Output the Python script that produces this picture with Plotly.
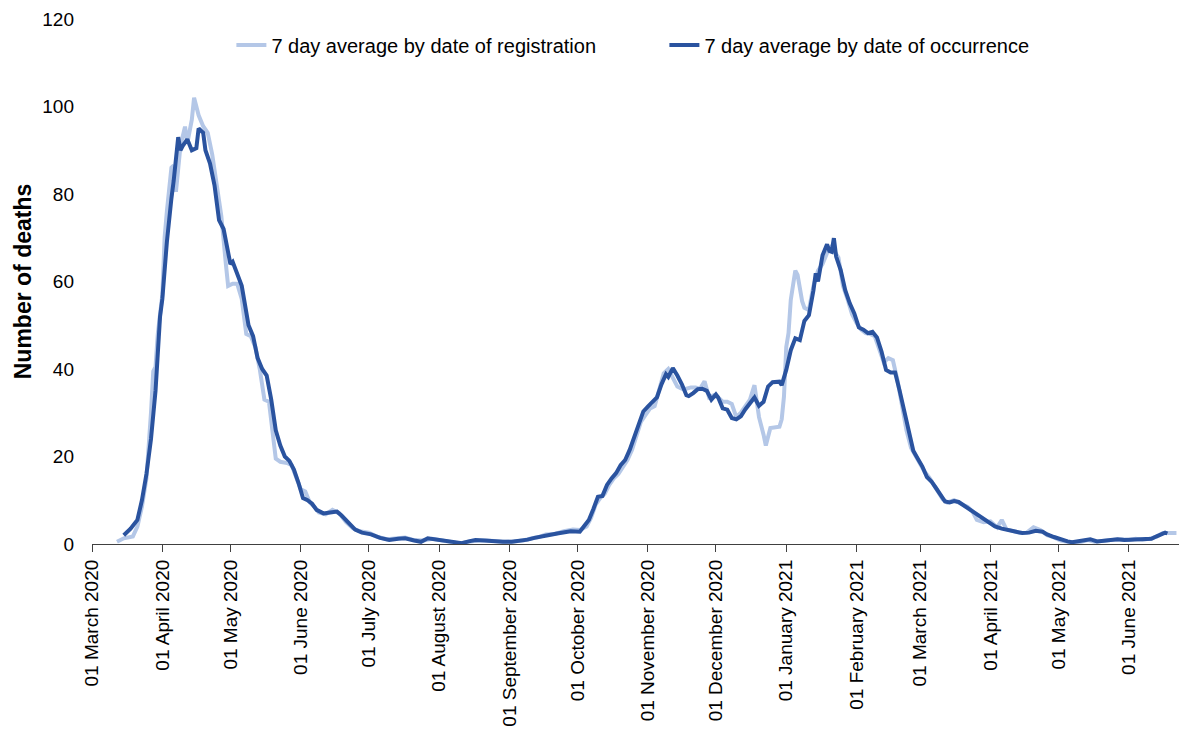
import plotly.graph_objects as go

# 7 day average by date of occurrence (dark)
occ_dates = ["2020-03-15","2020-03-18","2020-03-21","2020-03-23","2020-03-25","2020-03-27","2020-03-29","2020-03-31","2020-04-01","2020-04-03","2020-04-05","2020-04-06","2020-04-08","2020-04-09","2020-04-10","2020-04-12","2020-04-14","2020-04-16","2020-04-17","2020-04-19","2020-04-20","2020-04-22","2020-04-24","2020-04-26","2020-04-28","2020-04-30","2020-05-01","2020-05-02","2020-05-04","2020-05-06","2020-05-08","2020-05-09","2020-05-11","2020-05-13","2020-05-15","2020-05-17","2020-05-19","2020-05-21","2020-05-23","2020-05-25","2020-05-27","2020-05-29","2020-05-31","2020-06-02","2020-06-04","2020-06-06","2020-06-08","2020-06-11","2020-06-14","2020-06-17","2020-06-19","2020-06-22","2020-06-25","2020-06-28","2020-07-02","2020-07-06","2020-07-10","2020-07-14","2020-07-17","2020-07-21","2020-07-24","2020-07-27","2020-07-31","2020-08-04","2020-08-07","2020-08-11","2020-08-14","2020-08-17","2020-08-21","2020-08-25","2020-08-29","2020-09-02","2020-09-06","2020-09-09","2020-09-12","2020-09-15","2020-09-18","2020-09-22","2020-09-25","2020-09-28","2020-10-02","2020-10-04","2020-10-06","2020-10-08","2020-10-10","2020-10-12","2020-10-14","2020-10-16","2020-10-18","2020-10-20","2020-10-22","2020-10-24","2020-10-26","2020-10-28","2020-10-30","2020-11-01","2020-11-03","2020-11-05","2020-11-07","2020-11-09","2020-11-10","2020-11-12","2020-11-14","2020-11-16","2020-11-18","2020-11-19","2020-11-21","2020-11-23","2020-11-25","2020-11-27","2020-11-29","2020-12-01","2020-12-02","2020-12-04","2020-12-06","2020-12-08","2020-12-10","2020-12-12","2020-12-14","2020-12-16","2020-12-18","2020-12-20","2020-12-22","2020-12-24","2020-12-26","2020-12-29","2020-12-30","2021-01-01","2021-01-03","2021-01-05","2021-01-07","2021-01-09","2021-01-11","2021-01-13","2021-01-14","2021-01-15","2021-01-17","2021-01-19","2021-01-20","2021-01-21","2021-01-22","2021-01-23","2021-01-25","2021-01-27","2021-01-29","2021-01-31","2021-02-02","2021-02-04","2021-02-06","2021-02-08","2021-02-10","2021-02-12","2021-02-14","2021-02-16","2021-02-18","2021-02-20","2021-02-22","2021-02-24","2021-02-26","2021-02-28","2021-03-02","2021-03-04","2021-03-06","2021-03-08","2021-03-10","2021-03-12","2021-03-14","2021-03-16","2021-03-18","2021-03-20","2021-03-22","2021-03-25","2021-03-28","2021-03-31","2021-04-03","2021-04-06","2021-04-09","2021-04-12","2021-04-15","2021-04-18","2021-04-21","2021-04-24","2021-04-26","2021-04-29","2021-05-02","2021-05-05","2021-05-07","2021-05-10","2021-05-12","2021-05-15","2021-05-18","2021-05-21","2021-05-24","2021-05-27","2021-05-30","2021-06-02","2021-06-05","2021-06-08","2021-06-11","2021-06-13","2021-06-15","2021-06-17","2021-06-18"]
occ_values = [2.0,3.5,5.5,10,16,24,35,52,56,69,79,83,93,90,91,92.5,90,90.5,95,94,90,87,82,74,72,66.5,64,64.5,62,59,53,50,47.5,42.5,40,38.5,33,26,22.5,20,19,17,14,10.5,10,9.2,7.8,7.0,7.2,7.4,6.5,4.8,3.3,2.6,2.2,1.4,0.9,1.2,1.3,0.8,0.5,1.3,1.0,0.8,0.6,0.2,0.6,0.9,0.8,0.6,0.5,0.5,0.7,1.0,1.4,1.6,2.0,2.4,2.6,2.9,2.8,4.0,5.5,8.0,10.8,11,13.5,15,16.2,18,19.2,21.5,24.5,27.5,30.3,31.4,32.5,33.5,36.5,38.8,38.2,40.2,38.5,36.5,34,33.8,34.5,35.4,35.5,35,33,34.2,33.5,31,30.7,28.8,28.5,29.2,30.8,32.3,33.5,31.6,32.5,36,37,37.1,36.3,39.8,44.3,47,46.6,51,52.3,58,61.9,60,66,68.5,67,66.8,69.9,65.7,62.6,58,55,52.7,49.5,49,48.2,48.5,47.2,44,39.8,39.2,39.2,35,30.5,26,21.3,19.5,17.7,15.3,14.3,12.8,11.3,9.7,9.5,9.8,9.6,8.9,8.2,7.0,6.0,5.0,4.0,3.5,3.1,2.8,2.5,2.6,3.0,2.8,2.2,1.6,1.0,0.6,0.4,0.6,0.8,1.1,0.6,0.7,0.9,1.1,0.9,1.0,1.1,1.0,1.2,1.7,2.2,2.6,2.4]

# 7 day average by date of registration (light)
reg_dates = ["2020-03-12","2020-03-15","2020-03-19","2020-03-21","2020-03-23","2020-03-25","2020-03-27","2020-03-28","2020-03-29","2020-03-30","2020-04-01","2020-04-02","2020-04-03","2020-04-05","2020-04-06","2020-04-07","2020-04-09","2020-04-11","2020-04-12","2020-04-14","2020-04-15","2020-04-17","2020-04-19","2020-04-21","2020-04-23","2020-04-25","2020-04-27","2020-04-29","2020-04-30","2020-05-02","2020-05-04","2020-05-06","2020-05-08","2020-05-10","2020-05-12","2020-05-14","2020-05-16","2020-05-18","2020-05-20","2020-05-21","2020-05-23","2020-05-26","2020-05-28","2020-05-30","2020-06-01","2020-06-03","2020-06-05","2020-06-07","2020-06-09","2020-06-12","2020-06-15","2020-06-18","2020-06-21","2020-06-24","2020-06-27","2020-07-01","2020-07-05","2020-07-09","2020-07-13","2020-07-17","2020-07-21","2020-07-25","2020-07-29","2020-08-02","2020-08-06","2020-08-10","2020-08-14","2020-08-18","2020-08-22","2020-08-26","2020-08-30","2020-09-03","2020-09-07","2020-09-11","2020-09-14","2020-09-17","2020-09-21","2020-09-25","2020-09-29","2020-10-02","2020-10-05","2020-10-07","2020-10-09","2020-10-11","2020-10-13","2020-10-15","2020-10-17","2020-10-19","2020-10-21","2020-10-23","2020-10-25","2020-10-27","2020-10-29","2020-10-31","2020-11-02","2020-11-04","2020-11-06","2020-11-08","2020-11-10","2020-11-12","2020-11-14","2020-11-16","2020-11-18","2020-11-20","2020-11-22","2020-11-24","2020-11-26","2020-11-28","2020-11-30","2020-12-02","2020-12-04","2020-12-06","2020-12-08","2020-12-10","2020-12-12","2020-12-14","2020-12-16","2020-12-18","2020-12-20","2020-12-22","2020-12-23","2020-12-25","2020-12-29","2020-12-30","2020-12-31","2021-01-01","2021-01-02","2021-01-03","2021-01-05","2021-01-06","2021-01-07","2021-01-08","2021-01-09","2021-01-11","2021-01-13","2021-01-15","2021-01-17","2021-01-19","2021-01-21","2021-01-22","2021-01-24","2021-01-26","2021-01-28","2021-01-30","2021-02-01","2021-02-03","2021-02-05","2021-02-07","2021-02-09","2021-02-11","2021-02-13","2021-02-15","2021-02-17","2021-02-19","2021-02-21","2021-02-23","2021-02-25","2021-02-27","2021-03-01","2021-03-03","2021-03-05","2021-03-07","2021-03-09","2021-03-11","2021-03-13","2021-03-16","2021-03-19","2021-03-22","2021-03-24","2021-03-26","2021-03-29","2021-04-01","2021-04-04","2021-04-06","2021-04-08","2021-04-11","2021-04-14","2021-04-17","2021-04-20","2021-04-23","2021-04-26","2021-04-29","2021-05-02","2021-05-05","2021-05-08","2021-05-11","2021-05-14","2021-05-17","2021-05-20","2021-05-23","2021-05-26","2021-05-29","2021-06-01","2021-06-04","2021-06-07","2021-06-10","2021-06-13","2021-06-16","2021-06-19","2021-06-22"]
reg_values = [0.5,1.3,1.7,4,8.5,15,30,39.5,40.5,48,57,70,76,86,86.5,80.5,91,95.4,91.6,97,102,98,95.5,94,89,82,75,64,59,59.5,59.5,56,48,47.5,45,39.8,33,32.5,24,19.5,18.8,18.5,18.0,15,12.5,12,9.5,8.5,7.2,6.8,7.8,7.0,5.0,3.6,2.9,2.6,1.6,1.1,1.3,1.5,0.9,0.8,1.2,0.8,0.6,0.1,0.5,0.8,0.8,0.6,0.5,0.6,0.8,1.3,1.6,2.2,2.3,2.9,3.3,3.2,4,6,9,10.5,11.5,13.5,15,16,17.5,19.2,21.5,25,28,29.5,31,31.5,35,39,40,38,36,35.5,35.5,35.8,35.8,35.5,37.2,33.5,34,33.5,32.5,32.5,32,29,30,31.5,33,36.3,29,25,22.5,26.5,26.8,28.5,33.7,45,48.2,55.8,62.5,61.5,58.5,55.5,54,53.5,59,62.5,64,66.5,68,67,65.5,59,56,52.5,50.5,49,48.2,48,47.5,44.5,41.5,42.5,42,37.5,32,26,22,20,18.5,16.5,15.2,13.6,12,10.2,9.5,10,9.2,8.5,7.5,5.5,5.0,5.2,3.8,5.5,3.4,3.0,2.5,2.6,3.8,3.2,2.0,1.5,0.8,0.5,0.3,0.5,0.9,0.5,0.7,1.0,1.0,1.1,0.9,1.2,1.0,1.2,1.6,2.5,2.6,2.5]

tick_vals = ["2020-03-01","2020-04-01","2020-05-01","2020-06-01","2020-07-01","2020-08-01","2020-09-01","2020-10-01","2020-11-01","2020-12-01","2021-01-01","2021-02-01","2021-03-01","2021-04-01","2021-05-01","2021-06-01"]
tick_text = ["01 March 2020","01 April 2020","01 May 2020","01 June 2020","01 July 2020","01 August 2020","01 September 2020","01 October 2020","01 November 2020","01 December 2020","01 January 2021","01 February 2021","01 March 2021","01 April 2021","01 May 2021","01 June 2021"]

FONT = "Arial, 'Liberation Sans', sans-serif"

fig = go.Figure()
fig.add_trace(go.Scatter(x=reg_dates, y=reg_values, mode="lines",
                         name="7 day average by date of registration",
                         line=dict(color="#B4C7E7", width=4)))
fig.add_trace(go.Scatter(x=occ_dates, y=occ_values, mode="lines",
                         name="7 day average by date of occurrence",
                         line=dict(color="#2A539F", width=4)))

# the page body adds an 8px offset, so the figure is sized to fit the window
fig.update_layout(
    width=1179, height=725,
    margin=dict(l=84, r=6, t=11, b=189),
    paper_bgcolor="white", plot_bgcolor="white",
    font=dict(family=FONT, size=19, color="#000000"),
    showlegend=True,
    legend=dict(orientation="h", x=0.128, xanchor="left", y=0.9505, yanchor="middle",
                font=dict(size=20), bgcolor="rgba(0,0,0,0)",
                entrywidth=388, entrywidthmode="pixels"),
    xaxis=dict(type="date", range=["2020-03-01", "2021-06-24"], automargin=False,
               tickvals=tick_vals, ticktext=tick_text, tickangle=-90,
               showline=True, linecolor="#404040", linewidth=1.3,
               ticks="outside", ticklen=7, tickcolor="#404040", tickwidth=1.3,
               showgrid=False, zeroline=False, tickfont=dict(size=19)),
    yaxis=dict(range=[0, 120], tickvals=[0, 20, 40, 60, 80, 100, 120], automargin=False,
               showline=False, showgrid=False, zeroline=False, ticks="",
               ticklabelstandoff=17,
               title=dict(text="<b>Number of deaths</b>", font=dict(size=23), standoff=4),
               tickfont=dict(size=19)),
)

fig.write_html("out.html")
